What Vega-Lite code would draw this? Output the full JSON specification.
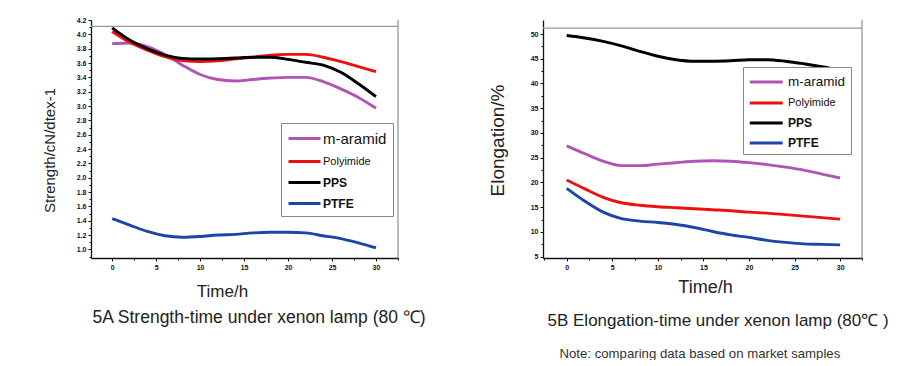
{
  "$schema": "https://vega.github.io/schema/vega-lite/v6.json",
  "background": "white",
  "autosize": {"type": "pad"},
  "padding": {"left": 42, "top": 16, "right": 0, "bottom": 0},
  "spacing": 145,
  "bounds": "flush",
  "config": {
    "view": {"stroke": null},
    "font": "Liberation Sans",
    "axis": {
      "domainColor": "#111", "domainWidth": 1.3, "tickColor": "#111", "tickSize": 3, "tickWidth": 1,
      "labelFont": "Liberation Sans", "labelFontWeight": "bold", "labelFontSize": 7, "labelColor": "#111", "labelPadding": 2,
      "grid": false, "titleFont": "Liberation Sans", "titleFontWeight": "normal", "titleColor": "#222"
    }
  },
  "datasets": {
    "strength": [
      {"material": "m-aramid", "t": 0, "v": 3.87}, {"material": "m-aramid", "t": 2, "v": 3.88}, {"material": "m-aramid", "t": 4, "v": 3.83}, {"material": "m-aramid", "t": 6, "v": 3.72}, {"material": "m-aramid", "t": 8, "v": 3.57}, {"material": "m-aramid", "t": 10, "v": 3.44}, {"material": "m-aramid", "t": 12, "v": 3.37}, {"material": "m-aramid", "t": 14, "v": 3.35}, {"material": "m-aramid", "t": 16, "v": 3.37}, {"material": "m-aramid", "t": 18, "v": 3.39}, {"material": "m-aramid", "t": 20, "v": 3.40}, {"material": "m-aramid", "t": 22, "v": 3.40}, {"material": "m-aramid", "t": 24, "v": 3.34}, {"material": "m-aramid", "t": 26, "v": 3.24}, {"material": "m-aramid", "t": 28, "v": 3.12}, {"material": "m-aramid", "t": 30, "v": 2.97},
      {"material": "Polyimide", "t": 0, "v": 4.04}, {"material": "Polyimide", "t": 2, "v": 3.89}, {"material": "Polyimide", "t": 4, "v": 3.78}, {"material": "Polyimide", "t": 6, "v": 3.69}, {"material": "Polyimide", "t": 8, "v": 3.635}, {"material": "Polyimide", "t": 10, "v": 3.62}, {"material": "Polyimide", "t": 12, "v": 3.63}, {"material": "Polyimide", "t": 14, "v": 3.66}, {"material": "Polyimide", "t": 16, "v": 3.68}, {"material": "Polyimide", "t": 18, "v": 3.71}, {"material": "Polyimide", "t": 20, "v": 3.72}, {"material": "Polyimide", "t": 22, "v": 3.72}, {"material": "Polyimide", "t": 24, "v": 3.68}, {"material": "Polyimide", "t": 26, "v": 3.62}, {"material": "Polyimide", "t": 28, "v": 3.55}, {"material": "Polyimide", "t": 30, "v": 3.48},
      {"material": "PPS", "t": 0, "v": 4.09}, {"material": "PPS", "t": 2, "v": 3.92}, {"material": "PPS", "t": 4, "v": 3.80}, {"material": "PPS", "t": 6, "v": 3.71}, {"material": "PPS", "t": 8, "v": 3.665}, {"material": "PPS", "t": 10, "v": 3.655}, {"material": "PPS", "t": 12, "v": 3.66}, {"material": "PPS", "t": 14, "v": 3.67}, {"material": "PPS", "t": 16, "v": 3.68}, {"material": "PPS", "t": 18, "v": 3.68}, {"material": "PPS", "t": 20, "v": 3.65}, {"material": "PPS", "t": 22, "v": 3.61}, {"material": "PPS", "t": 24, "v": 3.57}, {"material": "PPS", "t": 26, "v": 3.47}, {"material": "PPS", "t": 28, "v": 3.31}, {"material": "PPS", "t": 30, "v": 3.13},
      {"material": "PTFE", "t": 0, "v": 1.43}, {"material": "PTFE", "t": 2, "v": 1.34}, {"material": "PTFE", "t": 4, "v": 1.25}, {"material": "PTFE", "t": 6, "v": 1.19}, {"material": "PTFE", "t": 8, "v": 1.17}, {"material": "PTFE", "t": 10, "v": 1.18}, {"material": "PTFE", "t": 12, "v": 1.20}, {"material": "PTFE", "t": 14, "v": 1.21}, {"material": "PTFE", "t": 16, "v": 1.23}, {"material": "PTFE", "t": 18, "v": 1.24}, {"material": "PTFE", "t": 20, "v": 1.24}, {"material": "PTFE", "t": 22, "v": 1.23}, {"material": "PTFE", "t": 24, "v": 1.19}, {"material": "PTFE", "t": 26, "v": 1.15}, {"material": "PTFE", "t": 28, "v": 1.09}, {"material": "PTFE", "t": 30, "v": 1.02}
    ],
    "elong": [
      {"material": "m-aramid", "t": 0, "v": 27.4}, {"material": "m-aramid", "t": 2, "v": 25.8}, {"material": "m-aramid", "t": 4, "v": 24.3}, {"material": "m-aramid", "t": 6, "v": 23.4}, {"material": "m-aramid", "t": 8, "v": 23.4}, {"material": "m-aramid", "t": 10, "v": 23.7}, {"material": "m-aramid", "t": 12, "v": 24.0}, {"material": "m-aramid", "t": 14, "v": 24.3}, {"material": "m-aramid", "t": 16, "v": 24.4}, {"material": "m-aramid", "t": 18, "v": 24.3}, {"material": "m-aramid", "t": 20, "v": 24.0}, {"material": "m-aramid", "t": 22, "v": 23.6}, {"material": "m-aramid", "t": 24, "v": 23.1}, {"material": "m-aramid", "t": 26, "v": 22.5}, {"material": "m-aramid", "t": 28, "v": 21.7}, {"material": "m-aramid", "t": 30, "v": 20.9},
      {"material": "Polyimide", "t": 0, "v": 20.5}, {"material": "Polyimide", "t": 2, "v": 18.7}, {"material": "Polyimide", "t": 4, "v": 17.0}, {"material": "Polyimide", "t": 6, "v": 15.9}, {"material": "Polyimide", "t": 8, "v": 15.4}, {"material": "Polyimide", "t": 10, "v": 15.1}, {"material": "Polyimide", "t": 12, "v": 14.9}, {"material": "Polyimide", "t": 14, "v": 14.7}, {"material": "Polyimide", "t": 16, "v": 14.5}, {"material": "Polyimide", "t": 18, "v": 14.3}, {"material": "Polyimide", "t": 20, "v": 14.0}, {"material": "Polyimide", "t": 22, "v": 13.8}, {"material": "Polyimide", "t": 24, "v": 13.5}, {"material": "Polyimide", "t": 26, "v": 13.2}, {"material": "Polyimide", "t": 28, "v": 12.9}, {"material": "Polyimide", "t": 30, "v": 12.6},
      {"material": "PPS", "t": 0, "v": 49.7}, {"material": "PPS", "t": 2, "v": 49.2}, {"material": "PPS", "t": 4, "v": 48.5}, {"material": "PPS", "t": 6, "v": 47.6}, {"material": "PPS", "t": 8, "v": 46.5}, {"material": "PPS", "t": 10, "v": 45.5}, {"material": "PPS", "t": 12, "v": 44.8}, {"material": "PPS", "t": 14, "v": 44.5}, {"material": "PPS", "t": 16, "v": 44.5}, {"material": "PPS", "t": 18, "v": 44.6}, {"material": "PPS", "t": 20, "v": 44.8}, {"material": "PPS", "t": 22, "v": 44.8}, {"material": "PPS", "t": 24, "v": 44.5}, {"material": "PPS", "t": 26, "v": 44.0}, {"material": "PPS", "t": 28, "v": 43.4}, {"material": "PPS", "t": 30, "v": 42.7},
      {"material": "PTFE", "t": 0, "v": 18.8}, {"material": "PTFE", "t": 2, "v": 16.2}, {"material": "PTFE", "t": 4, "v": 14.0}, {"material": "PTFE", "t": 6, "v": 12.7}, {"material": "PTFE", "t": 8, "v": 12.2}, {"material": "PTFE", "t": 10, "v": 11.9}, {"material": "PTFE", "t": 12, "v": 11.5}, {"material": "PTFE", "t": 14, "v": 10.9}, {"material": "PTFE", "t": 16, "v": 10.1}, {"material": "PTFE", "t": 18, "v": 9.4}, {"material": "PTFE", "t": 20, "v": 8.9}, {"material": "PTFE", "t": 22, "v": 8.3}, {"material": "PTFE", "t": 24, "v": 7.9}, {"material": "PTFE", "t": 26, "v": 7.6}, {"material": "PTFE", "t": 28, "v": 7.5}, {"material": "PTFE", "t": 30, "v": 7.4}
    ]
  },
  "resolve": {"legend": {"color": "independent"}},
  "hconcat": [
    {
      "width": 307,
      "height": 238,
      "resolve": {"axis": {"x": "independent", "y": "independent"}},
      "layer": [
        {
          "data": {"name": "strength"},
          "mark": {"type": "line", "interpolate": "monotone", "strokeWidth": 2.9},
          "encoding": {
            "x": {"field": "t", "type": "quantitative", "scale": {"domain": [-2.4, 32.5], "nice": false, "zero": false},
                  "axis": {"values": [0, 5, 10, 15, 20, 25, 30], "title": "Time/h", "titleFontSize": 17, "titleX": 131, "titleY": 33, "titleBaseline": "middle", "titleAlign": "center"}},
            "y": {"field": "v", "type": "quantitative", "scale": {"domain": [0.88, 4.2], "nice": false, "zero": false},
                  "axis": {"values": [1.0, 1.2, 1.4, 1.6, 1.8, 2.0, 2.2, 2.4, 2.6, 2.8, 3.0, 3.2, 3.4, 3.6, 3.8, 4.0, 4.2], "format": ".1f", "title": "Strength/cN/dtex-1", "titleFontSize": 15, "titleX": -42, "titleY": 130, "titleBaseline": "middle", "titleAlign": "center", "titleAngle": -90}},
            "color": {"field": "material", "type": "nominal",
                      "scale": {"domain": ["m-aramid", "Polyimide", "PPS", "PTFE"], "range": ["#B055B5", "#EE1010", "#000000", "#1D45A5"]},
                      "legend": {"orient": "none", "legendX": 190, "legendY": 103, "title": null, "strokeColor": "#888", "fillColor": "white", "padding": 6, "symbolType": "M-1,0H3", "symbolSize": 256, "symbolStrokeWidth": 3, "rowPadding": 5, "labelOffset": 17, "labelFont": "Liberation Sans", "labelColor": "#111", "labelFontSize": 12,
                                 "encode": {"labels": {"update": {"fontSize": {"signal": "datum.label == 'Polyimide' ? 11 : (datum.label == 'm-aramid' ? 15 : 12)"}, "fontWeight": {"signal": "datum.label == 'PPS' || datum.label == 'PTFE' ? 'bold' : 'normal'"}}}}}}
          }
        },
        {
          "data": {"values": [{}]},
          "mark": {"type": "rule", "color": "#999", "strokeWidth": 1.3},
          "encoding": {"y": {"datum": 4.11, "type": "quantitative", "axis": {"orient": "left", "values": [0.9, 1.1, 1.3, 1.5, 1.7, 1.9, 2.1, 2.3, 2.5, 2.7, 2.9, 3.1, 3.3, 3.5, 3.7, 3.9, 4.1], "labels": false, "domain": false, "tickSize": 2, "title": null}}}
        },
        {
          "data": {"values": [{}]},
          "mark": {"type": "rule", "color": "#999", "strokeWidth": 1.3},
          "encoding": {"x": {"datum": 32.5, "type": "quantitative", "axis": {"orient": "bottom", "values": [-2.5, 2.5, 7.5, 12.5, 17.5, 22.5, 27.5, 32.5], "labels": false, "domain": false, "tickSize": 2,
                  "title": "5A  Strength-time under xenon lamp (80 ℃)", "titleFontSize": 17.5, "titleX": 1, "titleY": 59, "titleAlign": "left", "titleBaseline": "middle", "titleColor": "#222"}}}
        }
      ]
    },
    {
      "width": 319,
      "height": 238,
      "resolve": {"axis": {"x": "independent", "y": "independent"}},
      "layer": [
        {
          "data": {"name": "elong"},
          "mark": {"type": "line", "interpolate": "monotone", "strokeWidth": 2.9},
          "encoding": {
            "x": {"field": "t", "type": "quantitative", "scale": {"domain": [-2.6, 32.4], "nice": false, "zero": false},
                  "axis": {"values": [0, 5, 10, 15, 20, 25, 30], "title": "Time/h", "titleFontSize": 18, "titleX": 162, "titleY": 29, "titleBaseline": "middle", "titleAlign": "center"}},
            "y": {"field": "v", "type": "quantitative", "scale": {"domain": [4.74, 52.83], "nice": false, "zero": false},
                  "axis": {"values": [5, 10, 15, 20, 25, 30, 35, 40, 45, 50], "title": "Elongation/%", "titleFontSize": 19, "titleX": -46, "titleY": 120, "titleBaseline": "middle", "titleAlign": "center", "titleAngle": -90}},
            "color": {"field": "material", "type": "nominal",
                      "scale": {"domain": ["m-aramid", "Polyimide", "PPS", "PTFE"], "range": ["#B055B5", "#EE1010", "#000000", "#1D45A5"]},
                      "legend": {"orient": "none", "legendX": 200, "legendY": 47, "title": null, "strokeColor": "#888", "fillColor": "white", "padding": 5, "symbolType": "M-1,0H3", "symbolSize": 272, "symbolStrokeWidth": 3, "rowPadding": 4, "labelOffset": 20, "labelFont": "Liberation Sans", "labelColor": "#111", "labelFontSize": 12,
                                 "encode": {"labels": {"update": {"fontSize": {"signal": "datum.label == 'Polyimide' ? 11 : (datum.label == 'm-aramid' ? 13.5 : 12)"}, "fontWeight": {"signal": "datum.label == 'PPS' || datum.label == 'PTFE' ? 'bold' : 'normal'"}}}}}}
          }
        },
        {
          "data": {"values": [{}]},
          "mark": {"type": "rule", "color": "#999", "strokeWidth": 1.3},
          "encoding": {"y": {"datum": 51.2, "type": "quantitative", "axis": {"orient": "left", "values": [7.5, 12.5, 17.5, 22.5, 27.5, 32.5, 37.5, 42.5, 47.5], "labels": false, "domain": false, "tickSize": 2,
                  "title": "Note: comparing data based on market samples", "titleAngle": 0, "titleFontSize": 13.2, "titleX": 16, "titleY": 333, "titleAlign": "left", "titleBaseline": "middle", "titleColor": "#333"}}}
        },
        {
          "data": {"values": [{}]},
          "mark": {"type": "rule", "color": "#999", "strokeWidth": 1.3},
          "encoding": {"x": {"datum": 32.4, "type": "quantitative", "axis": {"orient": "bottom", "values": [-2.5, 2.5, 7.5, 12.5, 17.5, 22.5, 27.5, 32.4], "labels": false, "domain": false, "tickSize": 2,
                  "title": "5B Elongation-time under xenon lamp (80℃  )", "titleFontSize": 17, "titleX": 4, "titleY": 62, "titleAlign": "left", "titleBaseline": "middle", "titleColor": "#222"}}}
        }
      ]
    }
  ]
}
